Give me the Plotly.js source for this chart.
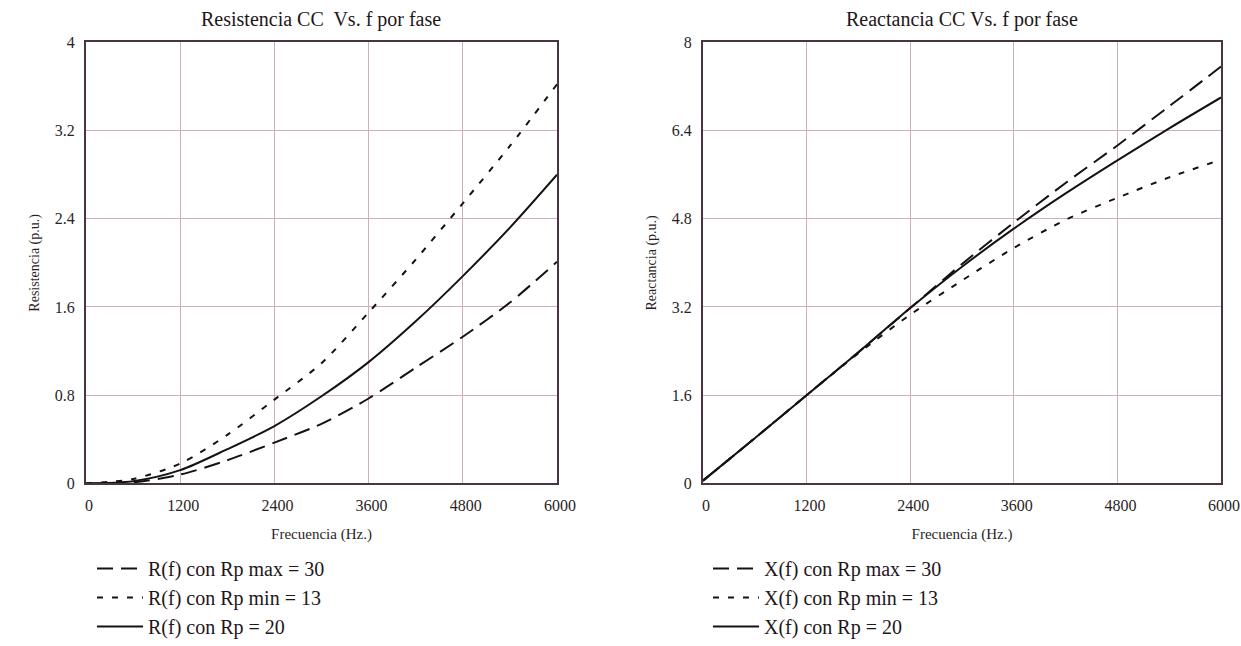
<!DOCTYPE html>
<html>
<head>
<meta charset="utf-8">
<script src="https://cdn.plot.ly/plotly-3.0.1.min.js"></script>
<style>html,body{margin:0;padding:0;background:#fff}#chart{width:1241px;height:646px}</style>
</head>
<body>
<div id="chart"></div>
<script>
// Frequency samples (Hz)
const freq = [0, 600, 1200, 1800, 2400, 3000, 3600, 4200, 4800, 5400, 6000];

// Resistance (p.u.)
const R_max30 = [0, 0.01, 0.08, 0.21, 0.37, 0.54, 0.77, 1.05, 1.33, 1.64, 2.01];
const R_min13 = [0, 0.04, 0.18, 0.44, 0.76, 1.09, 1.55, 2.03, 2.54, 3.06, 3.62];
const R_20    = [0, 0.02, 0.12, 0.31, 0.52, 0.79, 1.10, 1.47, 1.88, 2.32, 2.80];

// Reactance (p.u.)
const X_max30 = [0.05, 0.82, 1.60, 2.38, 3.18, 3.98, 4.73, 5.45, 6.13, 6.84, 7.56];
const X_min13 = [0.05, 0.82, 1.60, 2.36, 3.06, 3.68, 4.27, 4.78, 5.18, 5.55, 5.87];
const X_20    = [0.05, 0.82, 1.60, 2.38, 3.18, 3.93, 4.62, 5.26, 5.86, 6.44, 7.00];

// Tick labels
const xTicks = [0, 1200, 2400, 3600, 4800, 6000];
const xTickText = ['0', '1200', '2400', '3600', '4800', '6000'];
const rTicks = [0, 0.8, 1.6, 2.4, 3.2, 4];
const rTickText = ['0', '0.8', '1.6', '2.4', '3.2', '4'];
const xrTicks = [0, 1.6, 3.2, 4.8, 6.4, 8];
const xrTickText = ['0', '1.6', '3.2', '4.8', '6.4', '8'];

// Texts
const titleR = 'Resistencia CC  Vs. f por fase';
const titleX = 'Reactancia CC Vs. f por fase';
const xTitle = 'Frecuencia (Hz.)';
const yTitleR = 'Resistencia (p.u.)';
const yTitleX = 'Reactancia (p.u.)';
const namesR = ['R(f) con Rp max = 30', 'R(f) con Rp min = 13', 'R(f) con Rp = 20'];
const namesX = ['X(f) con Rp max = 30', 'X(f) con Rp min = 13', 'X(f) con Rp = 20'];

const SERIF = 'Liberation Serif, Times New Roman, serif';
const LC = '#161214';
const LONG = '16px,8px';
const SHORT = '6px,9px';

function tr(y, name, dash, xa, ya, lg) {
  return {
    x: freq, y: y, name: name, type: 'scatter', mode: 'lines',
    line: {color: LC, width: 2, dash: dash, shape: 'spline', smoothing: 0.8},
    xaxis: xa, yaxis: ya, legend: lg, hoverinfo: 'skip'
  };
}

const data = [
  tr(R_max30, namesR[0], LONG, 'x', 'y', 'legend'),
  tr(R_min13, namesR[1], SHORT, 'x', 'y', 'legend'),
  tr(R_20, namesR[2], 'solid', 'x', 'y', 'legend'),
  tr(X_max30, namesX[0], LONG, 'x2', 'y2', 'legend2'),
  tr(X_min13, namesX[1], SHORT, 'x2', 'y2', 'legend2'),
  tr(X_20, namesX[2], 'solid', 'x2', 'y2', 'legend2')
];

const GRID = '#cfadbf';
const FRAME = '#4a3343';
const TXT = '#2a1f26';
function xax(domain, anchor) {
  return {
    domain: domain, anchor: anchor, range: [0, 6000],
    tickvals: xTicks, ticktext: xTickText, ticks: '',
    showgrid: true, gridcolor: GRID, gridwidth: 1, zeroline: false,
    showline: true, linecolor: FRAME, linewidth: 2, mirror: true,
    tickfont: {family: SERIF, size: 16, color: TXT},
    ticklabelstandoff: 6, ticklabelshift: 3,
    title: {text: xTitle, font: {family: SERIF, size: 15, color: TXT}, standoff: 16}
  };
}
function yax(domain, anchor, vals, text, range, title) {
  return {
    domain: domain, anchor: anchor, range: range,
    tickvals: vals, ticktext: text, ticks: '',
    showgrid: true, gridcolor: GRID, gridwidth: 1, zeroline: false,
    showline: true, linecolor: FRAME, linewidth: 2, mirror: true,
    tickfont: {family: SERIF, size: 16, color: TXT},
    ticklabelstandoff: 6,
    title: {text: title, font: {family: SERIF, size: 14, color: TXT}, standoff: 12}
  };
}

const W = 1241, H = 646;
const yDom = [1 - 491 / H, 1 - 43 / H];
const legendFont = {family: SERIF, size: 20, color: '#1e1619'};
const layout = {
  width: W, height: H,
  margin: {l: 0, r: 0, t: 0, b: 0},
  paper_bgcolor: '#ffffff', plot_bgcolor: '#ffffff',
  xaxis: xax([86 / W, 557 / W], 'y'),
  yaxis: yax(yDom, 'x', rTicks, rTickText, [0, 4], yTitleR),
  xaxis2: xax([703 / W, 1221 / W], 'y2'),
  yaxis2: yax(yDom, 'x2', xrTicks, xrTickText, [0, 8], yTitleX),
  showlegend: true,
  legend: {
    x: 92 / W, y: 1 - 558 / H, xanchor: 'left', yanchor: 'top',
    font: legendFont, bgcolor: 'rgba(0,0,0,0)', tracegroupgap: 0, itemwidth: 46
  },
  legend2: {
    x: 708 / W, y: 1 - 558 / H, xanchor: 'left', yanchor: 'top',
    font: legendFont, bgcolor: 'rgba(0,0,0,0)', tracegroupgap: 0, itemwidth: 46
  },
  annotations: [
    {text: titleR, xref: 'paper', yref: 'paper', x: 321 / W, y: 1 - 20 / H,
     xanchor: 'center', yanchor: 'middle', showarrow: false,
     font: {family: SERIF, size: 20, color: '#1e1619'}},
    {text: titleX, xref: 'paper', yref: 'paper', x: 962 / W, y: 1 - 20 / H,
     xanchor: 'center', yanchor: 'middle', showarrow: false,
     font: {family: SERIF, size: 20, color: '#1e1619'}}
  ]
};

Plotly.newPlot('chart', data, layout, {displayModeBar: false, staticPlot: true});
</script>
</body>
</html>
